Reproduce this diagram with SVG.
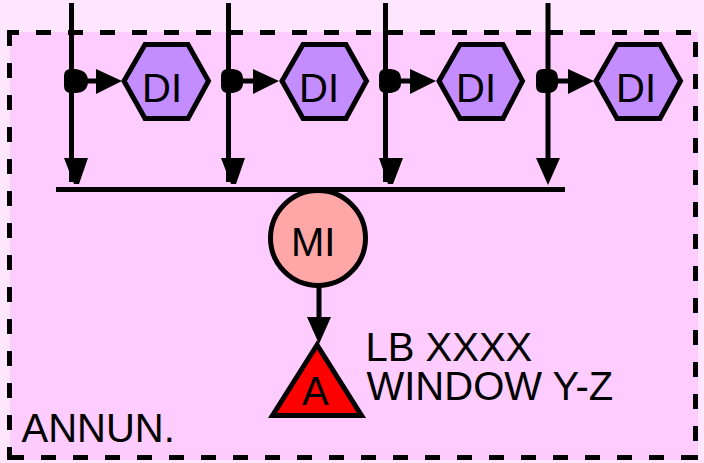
<svg xmlns="http://www.w3.org/2000/svg" width="704" height="463" viewBox="0 0 704 463">
<style>
text{font-family:"Liberation Sans",Arial,sans-serif;fill:#000;font-size:40px}
.l{fill:none;stroke:#000;stroke-width:5}
.d{fill:none;stroke:#000;stroke-width:5;stroke-dasharray:15 17}
.h{fill:#c38cff;stroke:#000;stroke-width:5;stroke-linejoin:miter}
</style>
<rect width="704" height="463" fill="#ffe6ff"/>
<rect x="10" y="32" width="688" height="428" fill="#ffccff"/>
<g id="frame">
<path class="d" style="stroke-dashoffset:3" d="M7 32.500H698"/>
<path class="d" d="M9.500 31V460"/>
<path class="d" d="M695.500 42V445"/>
<path class="d" d="M9 457.500H698"/>
<path class="d" style="stroke-dasharray:none" d="M7 457.500H23M681 457.500H698"/>
</g>
<g id="connectors">
<path class="l" d="M71.500 3V182M228.500 3V182M385.500 3V182M548 3V170M56 189.500H565M319 286V325M85 81H100M242 81H257M400 81H414M557 81H572"/>
<path d="M64 158H88L79 184H74ZM221 158H245L236 184H231ZM379 158H403L393 184H388ZM536 158H560L548 185ZM307 317H331L319 344ZM96 69L122 81L96 94ZM253 69L279 81L253 94ZM410 69L436 81L410 94ZM568 69L594 81L568 94Z"/>
<path d="M64 76Q64 69 71 69H75Q88 70 88 81Q88 93 75 93H71Q64 93 64 86ZM221 76Q221 69 228 69H233Q243 70 243 78V84Q243 91 233 93H228Q221 93 221 86ZM379 76Q379 69 386 69H391Q401 70 401 78V84Q401 91 391 93H386Q379 93 379 86ZM536 76Q536 69 543 69H550Q558 70 558 78V84Q558 91 550 93H543Q536 93 536 86Z"/>
</g>
<g id="di1"><path class="h" d="M124 81L145 44.500H188L208.500 81L188 118.500H145Z"/><text x="142" y="102">DI</text></g>
<g id="di2"><path class="h" d="M282 81L303 44.500H346L366.500 81L346 118.500H303Z"/><text x="299" y="102">DI</text></g>
<g id="di3"><path class="h" d="M439 81L460 44.500H503L522.500 81L503 118.500H460Z"/><text x="456" y="102">DI</text></g>
<g id="di4"><path class="h" d="M596 81L617 44.500H660L680.500 81L660 118.500H617Z"/><text x="616" y="102">DI</text></g>
<g id="mi"><circle cx="318" cy="238" r="47.500" fill="#ffa6a6" stroke="#000" stroke-width="5"/><text x="291" y="256">MI</text></g>
<g id="a"><path d="M317 345L272.500 415.500H361.500Z" fill="#f00" stroke="#000" stroke-width="5"/><text x="302" y="405">A</text></g>
<g id="labels">
<text x="365.500" y="361">LB XXXX</text>
<text x="366.500" y="400">WINDOW Y-Z</text>
<text x="21.500" y="442">ANNUN.</text>
</g>
</svg>
